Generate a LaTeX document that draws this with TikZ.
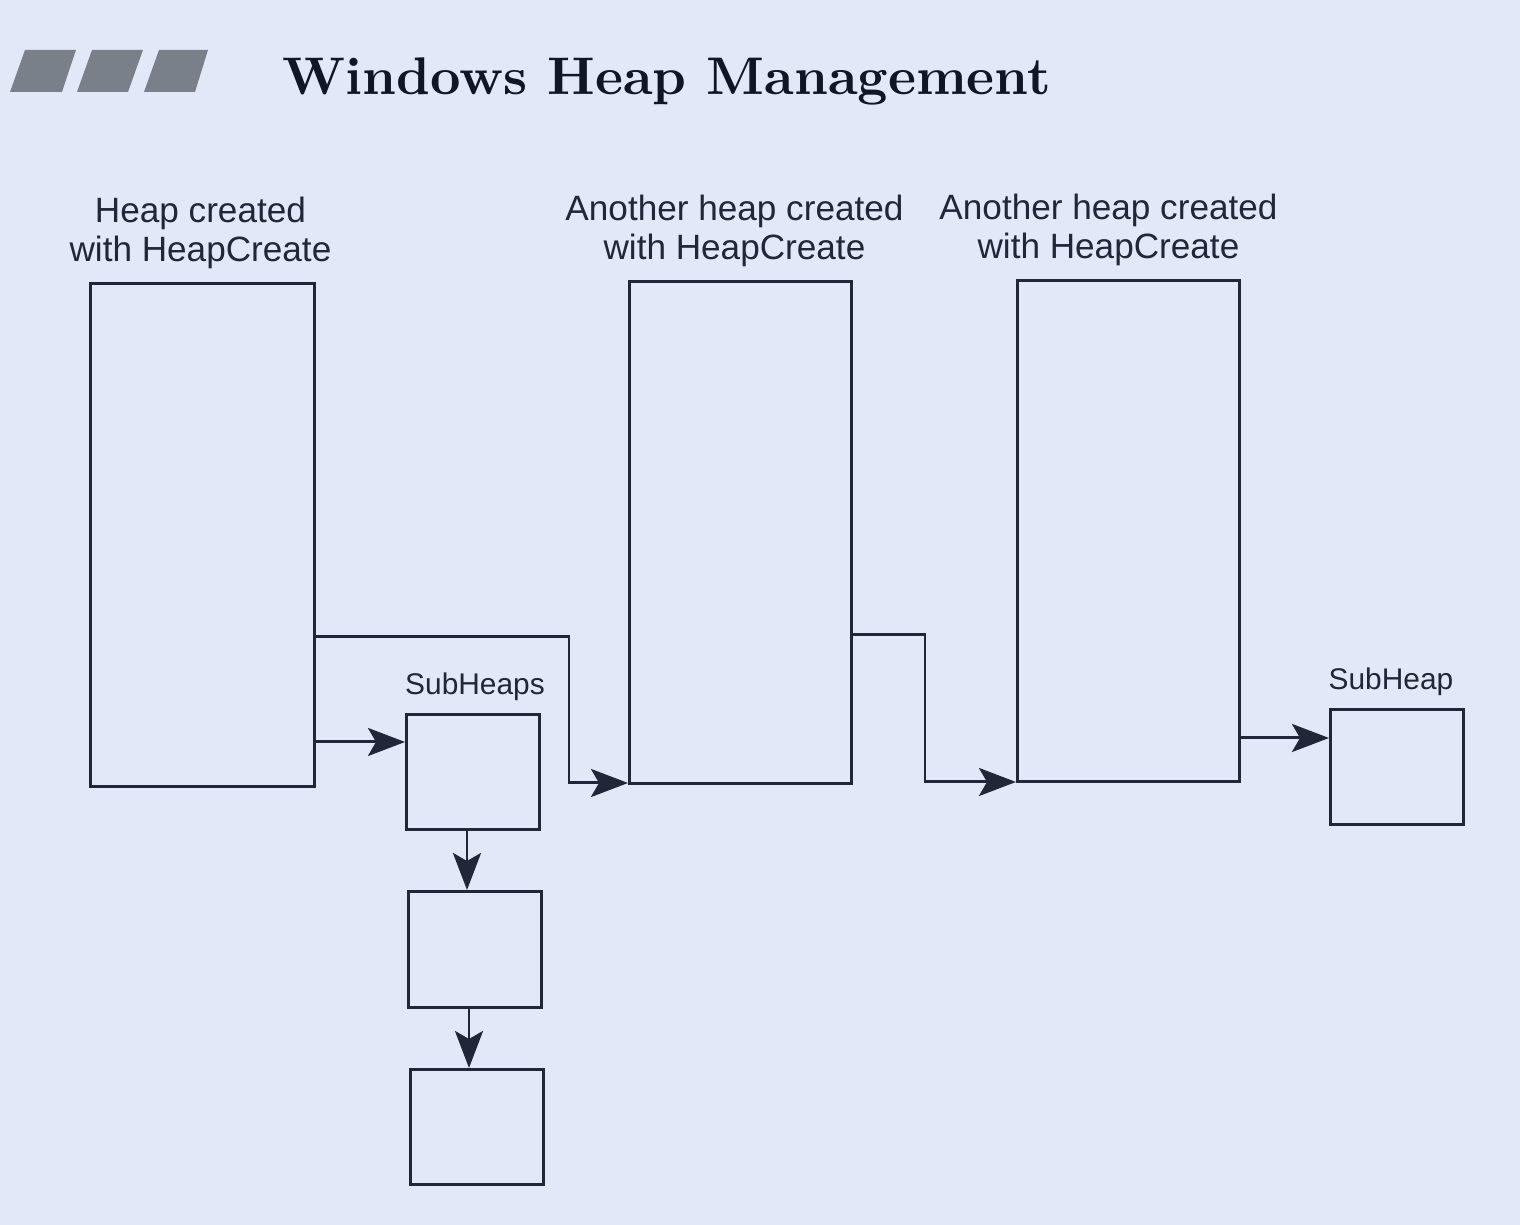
\documentclass[tikz,border=0pt]{standalone}
\usepackage{fontspec}
\usepackage{graphicx}
\newfontfamily\labelfont{Liberation Sans}
\usetikzlibrary{arrows.meta,calc}
\definecolor{bgcol}{HTML}{E1E9F8}
\definecolor{ink}{HTML}{1F2738}
\definecolor{barcol}{HTML}{7A8089}
\definecolor{titlecol}{HTML}{0F1626}
\tikzset{
  heapbox/.style={draw=ink, line width=0.85pt, minimum width=#1, inner sep=0pt, anchor=north west},
  lbl/.style={font=\labelfont\fontsize{10}{11.3}\selectfont, text=ink, align=center, inner sep=0pt},
  sublbl/.style={font=\labelfont\fontsize{8.5}{10}\selectfont, text=ink, inner sep=0pt},
  arr/.style={draw=ink, line width=0.85pt, -{Stealth[length=3.7mm,width=2.8mm,inset=0.8mm]}},
  bar/.style={fill=barcol, draw=none}
}
\begin{document}
\begin{tikzpicture}
\fill[bgcol] (0,0) rectangle (15.2,-12.25);
\useasboundingbox (0,0) rectangle (15.2,-12.25);
% title bars
\fill[bar] (0.10,-0.92) -- (0.25,-0.50) -- (0.76,-0.50) -- (0.62,-0.92) -- cycle;
\fill[bar] (0.77,-0.92) -- (0.92,-0.50) -- (1.43,-0.50) -- (1.28,-0.92) -- cycle;
\fill[bar] (1.44,-0.92) -- (1.59,-0.50) -- (2.08,-0.50) -- (1.95,-0.92) -- cycle;
\node[anchor=base west, inner sep=0pt, text=titlecol] (title) at (2.82,-0.95)
  {\resizebox{7.68cm}{!}{\bfseries Windows Heap Management}};
% main heaps
\node[heapbox=2.24cm, minimum height=5.03cm] (h1) at (0.89,-2.82) {};
\node[heapbox=2.22cm, minimum height=5.02cm] (h2) at (6.28,-2.80) {};
\node[heapbox=2.22cm, minimum height=5.01cm] (h3) at (10.16,-2.79) {};
% subheaps
\node[heapbox=1.33cm, minimum height=1.15cm] (s1) at (4.05,-7.13) {};
\node[heapbox=1.33cm, minimum height=1.16cm] (s2) at (4.07,-8.90) {};
\node[heapbox=1.33cm, minimum height=1.15cm] (s3) at (4.09,-10.68) {};
\node[heapbox=1.33cm, minimum height=1.15cm] (r1) at (13.29,-7.08) {};
% labels
\node[lbl, anchor=south] (l1) at ($(h1.north)+(-0.02,0.12)$) {Heap created\\with HeapCreate};
\node[lbl, anchor=south] (l2) at ($(h2.north)+(-0.06,0.12)$) {Another heap created\\with HeapCreate};
\node[lbl, anchor=south] (l3) at ($(h3.north)+(-0.20,0.12)$) {Another heap created\\with HeapCreate};
\node[sublbl, anchor=south] (ls) at ($(s1.north)+(0.02,0.12)$) {SubHeaps};
\node[sublbl, anchor=south] (lr) at ($(r1.north)+(-0.06,0.12)$) {SubHeap};
% connectors
\coordinate (a1) at (0,-7.42);
\draw[arr] (h1.east |- a1) -- (s1.west |- a1);
\coordinate (a2) at (5.69,-6.37);
\coordinate (a2b) at (5.69,-7.83);
\draw[arr] (h1.east |- a2) -- (a2) -- (a2b) -- (h2.west |- a2b);
\coordinate (a3) at (9.25,-6.35);
\coordinate (a3b) at (9.25,-7.82);
\draw[arr] (h2.east |- a3) -- (a3) -- (a3b) -- (h3.west |- a3b);
\coordinate (a4) at (0,-7.38);
\draw[arr] (h3.east |- a4) -- (r1.west |- a4);
\coordinate (v1) at (4.67,0);
\coordinate (v2) at (4.69,0);
\draw[arr] (s1.south -| v1) -- (s2.north -| v1);
\draw[arr] (s2.south -| v2) -- (s3.north -| v2);
\end{tikzpicture}
\end{document}
